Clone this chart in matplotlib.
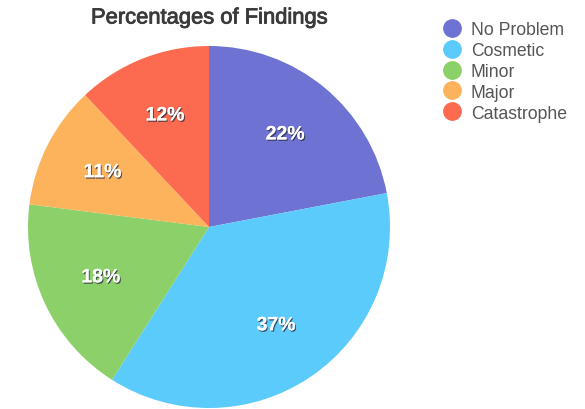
import matplotlib.pyplot as plt
import matplotlib.patheffects as pe
from matplotlib.lines import Line2D

plt.rcParams['font.family'] = ['Liberation Sans', 'DejaVu Sans']

categories = ["No Problem", "Cosmetic", "Minor", "Major", "Catastrophe"]
shares = [22, 37, 18, 11, 12]
colors = ["#6e72d3", "#5bcbfc", "#8bd068", "#fdb25c", "#fc6b4f"]

fig = plt.figure(figsize=(5.85, 4.1), dpi=100)
ax = fig.add_axes([28 / 585, 1 / 410, 362 / 585, 362 / 410])

wedges, texts, autotexts = ax.pie(
    shares,
    colors=colors,
    startangle=90,
    counterclock=False,
    radius=1.0,
    autopct="%d%%",
    pctdistance=0.66,
    wedgeprops=dict(linewidth=0),
)
ax.set_xlim(-1, 1)
ax.set_ylim(-1, 1)
ax.set_aspect("auto")

shadow = [pe.withSimplePatchShadow(offset=(0.8, -1.0), shadow_rgbFace="#2a2a3a", alpha=0.75), pe.Normal()]
for t in autotexts:
    t.set_color("white")
    t.set_fontsize(14)
    t.set_fontweight("bold")
    t.set_path_effects(shadow)

# medium-weight title: regular face with a thin stroke
title = fig.text(209 / 585, 1 - 19 / 410, "Percentages of Findings", ha="center", va="center",
                 fontsize=15.8, color="#3a3a3a")
title.set_path_effects([pe.Stroke(linewidth=0.6, foreground="#3a3a3a"), pe.Normal()])

handles = [Line2D([], [], linestyle="none", marker="o", markersize=12.5,
                  markerfacecolor=c, markeredgecolor=c) for c in colors]
fig.legend(handles, categories, loc="upper left", bbox_to_anchor=(441 / 585, 1 - 22 / 410),
           frameon=False, fontsize=12.7, labelcolor="#555555", handletextpad=0.5,
           labelspacing=0.22, handlelength=1.2, borderpad=0, borderaxespad=0)

fig.savefig("out.png", dpi=100)
